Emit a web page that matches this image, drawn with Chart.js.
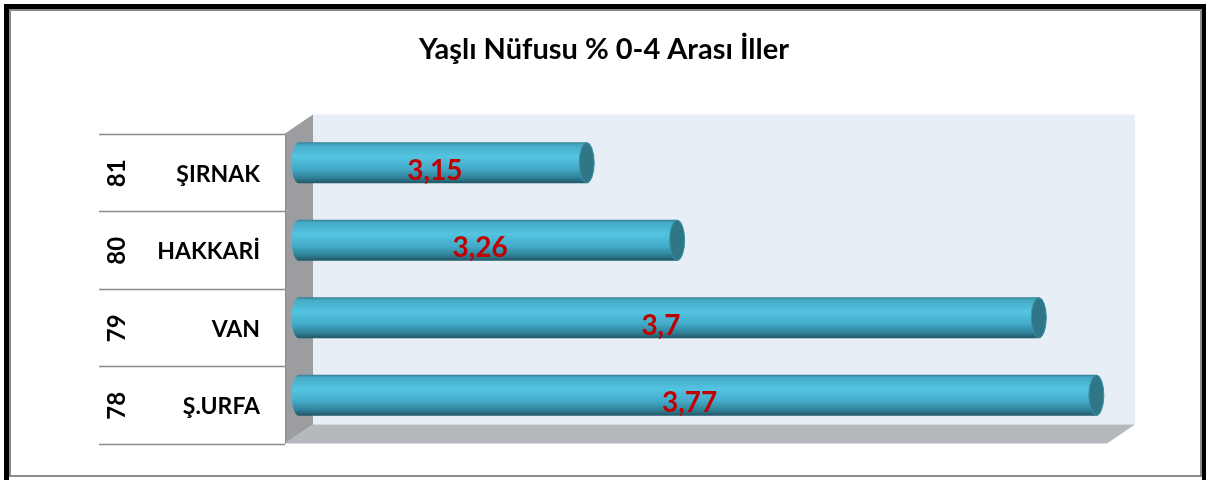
<!DOCTYPE html>
<html>
<head>
<meta charset="utf-8">
<script src="https://cdn.jsdelivr.net/npm/chart.js@4/dist/chart.umd.min.js"></script>
<style>
  html, body { margin: 0; padding: 0; background: #fff; }
  canvas { display: block; }
</style>
</head>
<body>
<canvas id="c" width="1206" height="480"></canvas>
<script>
// chart data
const chartTitle = 'Yaşlı Nüfusu % 0-4 Arası İller';
const provinces = ['ŞIRNAK', 'HAKKARİ', 'VAN', 'Ş.URFA'];
const ranks = ['81', '80', '79', '78'];
const values = [3.15, 3.26, 3.7, 3.77];
const axisMin = 2.8;
const axisMax = 3.8;

const FONT = 'Lato, "Open Sans", sans-serif';
const depth = { x: 14, y: 9.5 }; // half of the fake 3d depth

const fmt = v => String(v).replace('.', ',');

const decor = {
  id: 'decor',
  beforeDraw(chart) {
    const { ctx, chartArea: ca } = chart;
    ctx.save();
    ctx.fillStyle = '#fff';
    ctx.fillRect(0, 0, chart.width, chart.height);

    // outer frame
    ctx.fillStyle = '#000';
    ctx.fillRect(4, 4, 1202, 5);
    ctx.fillRect(4, 4, 5, 476);
    ctx.fillRect(1202, 4, 4, 476);
    ctx.strokeStyle = '#8a8a8a';
    ctx.lineWidth = 2;
    ctx.strokeRect(10, 10, 1191, 466);

    // title
    ctx.fillStyle = '#000';
    ctx.font = 'bold 29px ' + FONT;
    ctx.textAlign = 'center';
    ctx.textBaseline = 'middle';
    ctx.fillText(chartTitle, 604, 50);

    const bl = ca.left + depth.x, bt = ca.top - depth.y;
    const br = ca.right + depth.x, bb = ca.bottom - depth.y;
    const fl = ca.left - depth.x, ft = ca.top + depth.y;
    const fr = ca.right - depth.x, fb = ca.bottom + depth.y;

    // back wall
    ctx.fillStyle = '#e8eef6';
    ctx.fillRect(bl, bt, br - bl, bb - bt);

    // floor
    ctx.fillStyle = '#b5b9bd';
    ctx.beginPath();
    ctx.moveTo(bl, bb); ctx.lineTo(br, bb); ctx.lineTo(fr, fb); ctx.lineTo(fl, fb);
    ctx.closePath(); ctx.fill();

    // left wall
    ctx.fillStyle = '#9b9da0';
    ctx.beginPath();
    ctx.moveTo(fl, ft); ctx.lineTo(bl, bt); ctx.lineTo(bl, bb); ctx.lineTo(fl, fb);
    ctx.closePath(); ctx.fill();
    ctx.strokeStyle = '#8c8c8c';
    ctx.lineWidth = 1;
    ctx.beginPath();
    ctx.moveTo(fl + 0.5, ft); ctx.lineTo(fl + 0.5, fb);
    ctx.stroke();

    // category table on the front plane
    const yScale = chart.scales.y;
    const rowH = (ca.bottom - ca.top) / provinces.length;
    ctx.strokeStyle = '#8c8c8c';
    ctx.lineWidth = 1.5;
    for (let i = 0; i <= provinces.length; i++) {
      const y = Math.round(ft + i * rowH) + 0.5;
      ctx.beginPath();
      ctx.moveTo(99, y); ctx.lineTo(fl, y);
      ctx.stroke();
    }

    ctx.fillStyle = '#000';
    provinces.forEach((name, i) => {
      const y = yScale.getPixelForTick(i) + depth.y;
      ctx.font = 'bold 23px ' + FONT;
      ctx.textAlign = 'right';
      ctx.textBaseline = 'middle';
      ctx.fillText(name, 260, y + 2);

      ctx.save();
      ctx.translate(117, y + 1);
      ctx.rotate(-Math.PI / 2);
      ctx.textAlign = 'center';
      ctx.font = 'bold 24px ' + FONT;
      ctx.fillText(ranks[i], 0, 0);
      ctx.restore();
    });
    ctx.restore();
  },
  afterDatasetsDraw(chart) {
    const { ctx } = chart;
    const meta = chart.getDatasetMeta(0);
    const base = chart.scales.x.getPixelForValue(axisMin);
    ctx.save();
    meta.data.forEach((bar, i) => {
      const { x, y, height } = bar.getProps(['x', 'y', 'height'], true);
      const top = y - height / 2, bot = y + height / 2;
      const rx = 7.5, ry = height / 2;

      const g = ctx.createLinearGradient(0, top, 0, bot);
      g.addColorStop(0, '#367f93');
      g.addColorStop(0.07, '#46abc7');
      g.addColorStop(0.35, '#53c4e1');
      g.addColorStop(0.65, '#43aac7');
      g.addColorStop(0.86, '#2f8199');
      g.addColorStop(1, '#215666');

      // body with rounded back end
      ctx.fillStyle = g;
      ctx.beginPath();
      ctx.ellipse(base, y, rx, ry, 0, Math.PI / 2, Math.PI * 1.5);
      ctx.lineTo(x, top);
      ctx.ellipse(x, y, rx, ry, 0, -Math.PI / 2, Math.PI / 2);
      ctx.lineTo(base, bot);
      ctx.closePath();
      ctx.fill();

      // end face
      ctx.fillStyle = '#2f7686';
      ctx.strokeStyle = '#3c93aa';
      ctx.lineWidth = 1;
      ctx.beginPath();
      ctx.ellipse(x, y, rx, ry - 0.5, 0, 0, Math.PI * 2);
      ctx.fill();
      ctx.stroke();

      // value label
      ctx.fillStyle = '#c00000';
      ctx.font = 'bold 28px ' + FONT;
      ctx.textAlign = 'center';
      ctx.textBaseline = 'middle';
      ctx.fillText(fmt(values[i]), (base + x) / 2 - 8, y + 8);
    });
    ctx.restore();
  }
};

new Chart(document.getElementById('c'), {
  type: 'bar',
  data: {
    labels: provinces,
    datasets: [{
      label: chartTitle,
      data: values,
      backgroundColor: 'rgba(0,0,0,0)',
      borderWidth: 0,
      barPercentage: 0.53,
      categoryPercentage: 1
    }]
  },
  options: {
    indexAxis: 'y',
    responsive: false,
    animation: false,
    layout: { padding: { left: 299, right: 85, top: 124, bottom: 46 } },
    scales: {
      x: { display: false, min: axisMin, max: axisMax },
      y: { display: false }
    },
    plugins: {
      legend: { display: false },
      tooltip: { enabled: false }
    }
  },
  plugins: [decor]
});
</script>
</body>
</html>
